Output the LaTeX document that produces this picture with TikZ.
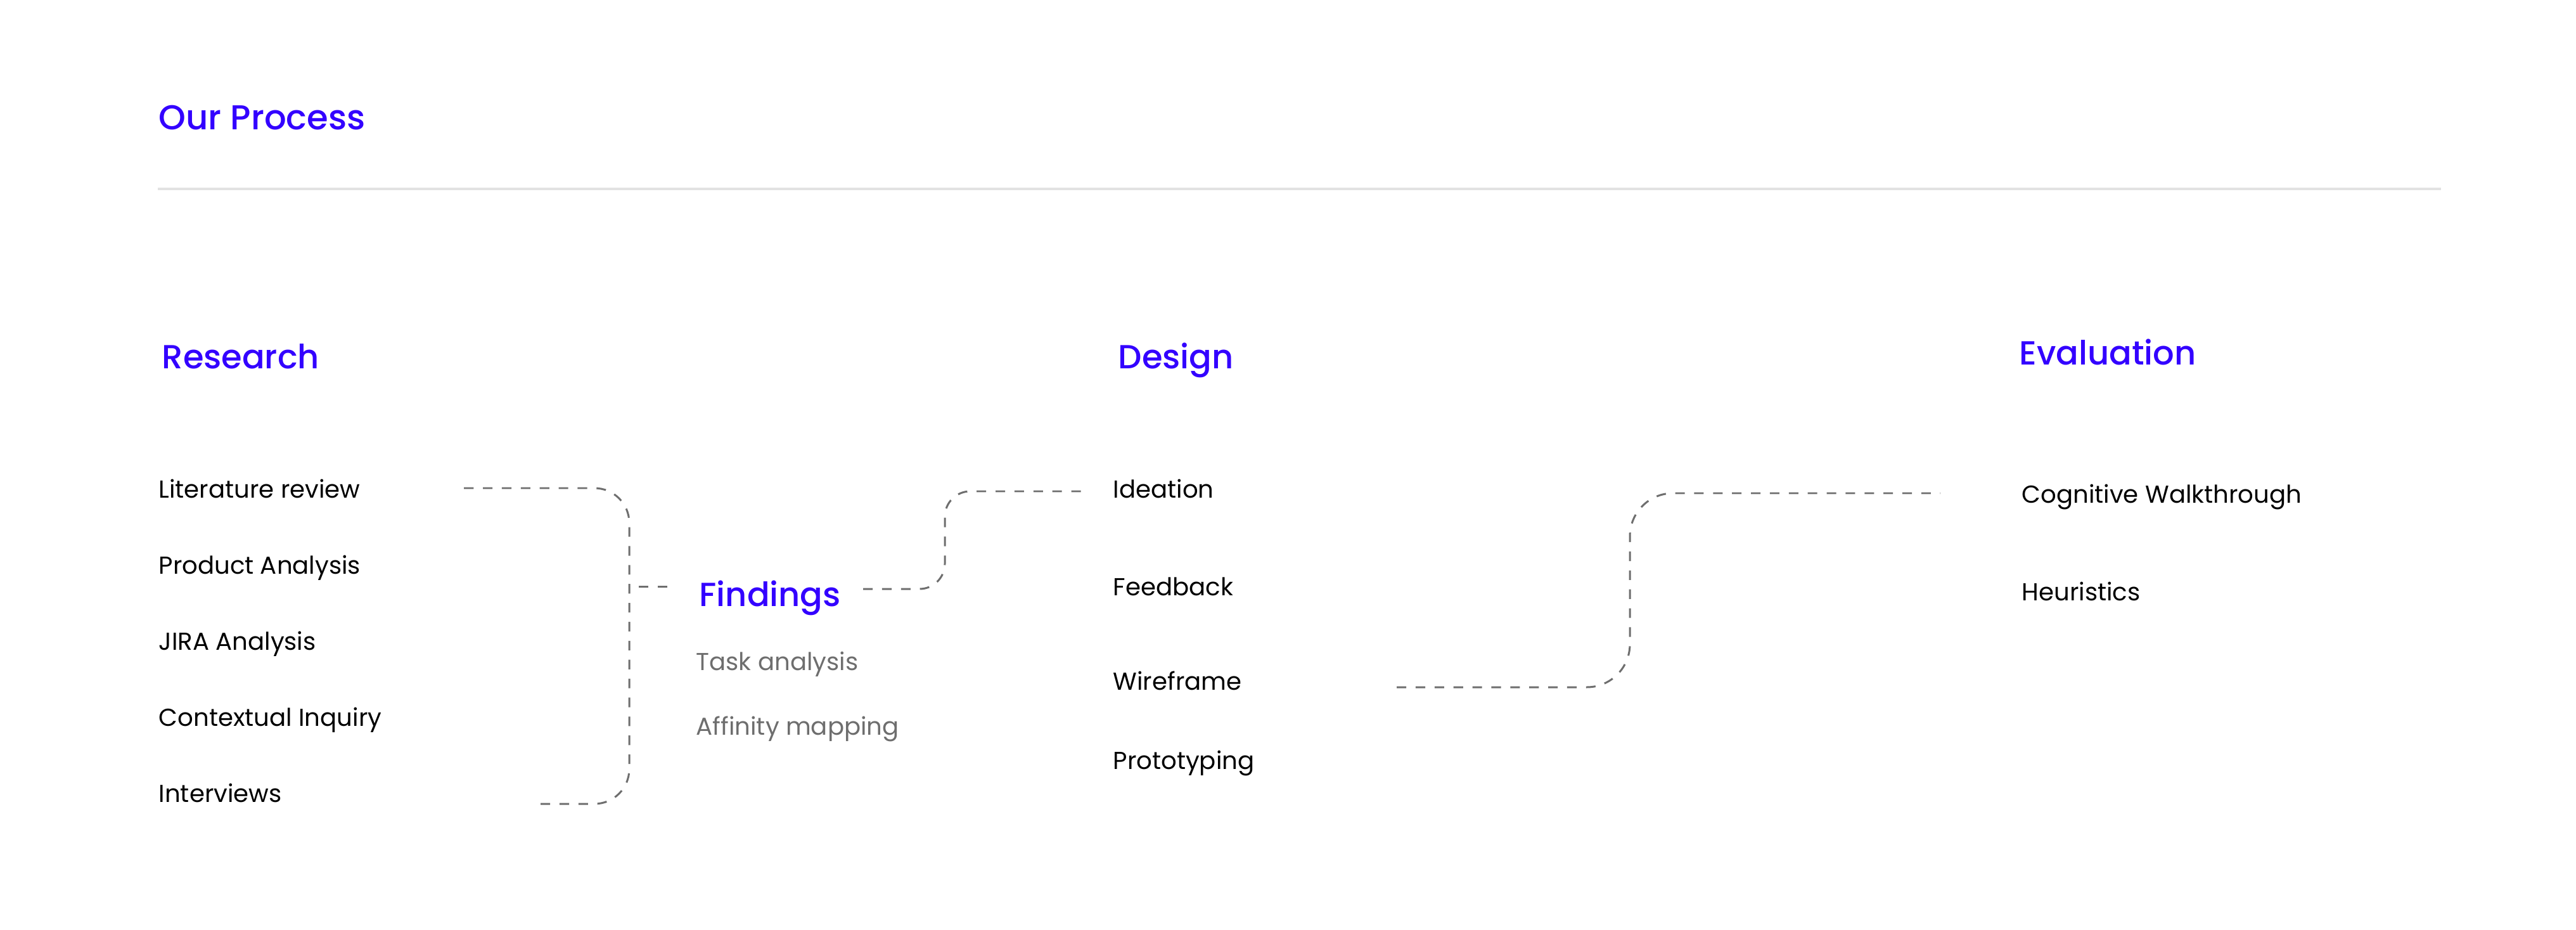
\documentclass[tikz,border=0pt]{standalone}
\usepackage{fontspec}
\setmainfont{Poppins}
\newfontfamily\headfont{Poppins Medium}
\usepackage{xcolor}
\usetikzlibrary{positioning,calc}

\definecolor{procblue}{RGB}{51,0,255}
\definecolor{dashgray}{RGB}{110,110,110}
\definecolor{rulegray}{RGB}{226,226,226}

\tikzset{
  head/.style={anchor=base west,inner sep=0pt,text=procblue,font=\headfont\fontsize{15}{18}\selectfont},
  item/.style={anchor=base west,inner sep=0pt,text=black,font=\fontsize{11}{13}\selectfont},
  subitem/.style={item,text=dashgray},
  conn/.style={draw=dashgray,line width=0.85pt,dash pattern=on 4.3pt off 4.2pt}
}

\begin{document}
\begin{tikzpicture}
        % Frame and title
\fill[white] (0,0) rectangle (40.65,-14.67);
\useasboundingbox (0,0) rectangle (40.65,-14.67);
\node[head,font=\headfont\fontsize{15.5}{18}\selectfont] (title) at (2.50,-2.05) {Our Process};
\coordinate (ruleL) at (2.49,-2.98);
\coordinate (ruleR) at (38.52,-2.98);
\draw[rulegray,line width=0.9pt] (ruleL) -- (ruleR);

        % Research
\node[head] (research) at (2.55,-5.81) {Research};
\node[item] (lit) at (2.50,-7.85) {Literature review};
\node[item] (prod) at (2.50,-9.05) {Product Analysis};
\node[item] (jira) at (2.50,-10.25) {JIRA Analysis};
\node[item] (ctx) at (2.50,-11.45) {Contextual Inquiry};
\node[item] (intv) at (2.50,-12.65) {Interviews};

        % Findings
\node[head] (findings) at (11.03,-9.56) {Findings};
\node[subitem] (task) at (10.98,-10.57) {Task analysis};
\node[subitem] (affinity) at (10.98,-11.59) {Affinity mapping};

        % Design
\node[head] (design) at (17.64,-5.81) {Design};
\node[item] (ideation) at (17.56,-7.85) {Ideation};
\node[item] (feedback) at (17.56,-9.39) {Feedback};
\node[item] (wireframe) at (17.56,-10.88) {Wireframe};
\node[item] (proto) at (17.56,-12.13) {Prototyping};

        % Evaluation
\node[head] (evaluation) at (31.86,-5.76) {Evaluation};
\node[item] (cogwalk) at (31.90,-7.93) {Cognitive Walkthrough};
\node[item] (heur) at (31.90,-9.47) {Heuristics};

        % Connectors
\coordinate (litEnd) at (7.29,-7.70);
\coordinate (intvEnd) at (8.53,-12.68);
\coordinate (stubA) at (10.08,-9.25);
\coordinate (stubB) at (10.56,-9.25);
\coordinate (findOut) at (13.62,-9.29);
\coordinate (ideaIn) at (17.10,-7.75);
\coordinate (wireOut) at (22.04,-10.84);
\coordinate (cogIn) at (30.62,-7.78);

\draw[conn,rounded corners=0.55cm] (intvEnd) -| (9.93,-7.70) -- (litEnd);
\draw[conn] (stubA) -- (stubB);
\draw[conn,rounded corners=0.4cm] (findOut) -- ++(1.29,0) |- (ideaIn);
\draw[conn,rounded corners=0.68cm] (wireOut) -- ++(3.68,0) |- (cogIn);
    \end{tikzpicture}
\end{document}
